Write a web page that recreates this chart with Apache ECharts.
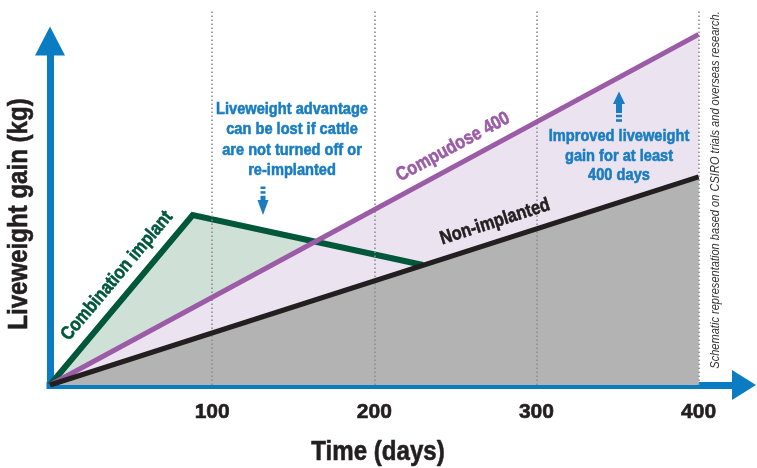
<!DOCTYPE html>
<html>
<head>
<meta charset="utf-8">
<script src="https://cdn.jsdelivr.net/npm/echarts@6/dist/echarts.min.js"></script>
<style>
html,body{margin:0;padding:0;background:#fff;}
#chart{width:757px;height:468px;}
</style>
</head>
<body>
<div id="chart"></div>
<script>
// ---- data (schematic values) ----
var xTicks = [100, 200, 300, 400];
var nonImplanted = [[0, 0], [400, 55.5]];
var compudose = [[0, 0], [400, 93.5]];
var combination = [[0, 0], [88, 45.3], [230, 32]];
var seriesNames = ['Combination implant', 'Compudose 400', 'Non-implanted'];
var xTitle = 'Time (days)';
var yTitle = 'Liveweight gain (kg)';
var noteLoss = 'Liveweight advantage\ncan be lost if cattle\nare not turned off or\nre-implanted';
var noteGain = 'Improved liveweight\ngain for at least\n400 days';
var sourceNote = 'Schematic representation based on CSIRO trials and overseas research.';

var FONT = '"Liberation Sans", Arial, sans-serif';
var NARROW = 0.86;
var BLUE = '#0a7cc2';
var TXTBLUE = '#1a7dc1';
var GREEN = '#00573a';
var PURPLE = '#9b5ba6';
var BLACK = '#231f20';

var chart = echarts.init(document.getElementById('chart'), null, {renderer: 'canvas'});

function txt(text, x, y, size, color, rot, extra, heavy) {
  var s = {
    text: text, x: 0, y: 0, fill: color, fontSize: size, fontWeight: 'bold',
    fontFamily: FONT, align: 'center', verticalAlign: 'middle'
  };
  if (heavy !== false) { s.stroke = color; s.lineWidth = 0.6; }
  if (extra) for (var k in extra) s[k] = extra[k];
  return {type: 'text', x: x, y: y, rotation: rot || 0, scaleX: NARROW, scaleY: 1, z: 100, style: s};
}

var option = {
  animation: false,
  backgroundColor: '#ffffff',
  grid: [
    {left: 50, right: 13, top: 10, bottom: 83},
    {left: 50, right: 13, top: 41, bottom: 83}
  ],
  xAxis: [
    {
      type: 'value', gridIndex: 0, min: 0, max: 428, interval: 100, offset: 4,
      axisLine: {show: true, symbol: ['none', 'triangle'], symbolSize: [30, 24],
        lineStyle: {color: BLUE, width: 7, cap: 'square'}},
      axisTick: {show: false},
      splitLine: {show: false},
      axisLabel: {
        margin: 13, fontSize: 21, fontWeight: 'bold', fontFamily: FONT, color: BLACK,
        textBorderColor: BLACK, textBorderWidth: 0.6,
        formatter: function (v) { return xTicks.indexOf(v) >= 0 ? String(v) : ''; }
      }
    },
    {type: 'value', gridIndex: 1, min: 0, max: 428, show: false}
  ],
  yAxis: [
    {type: 'value', gridIndex: 0, min: 0, max: 100, show: false},
    {
      type: 'value', gridIndex: 1, min: 0, max: 1, offset: 1.5,
      axisLine: {show: true, symbol: ['none', 'triangle'], symbolSize: [30, 29],
        lineStyle: {color: BLUE, width: 7, cap: 'square'}},
      axisTick: {show: false}, axisLabel: {show: false}, splitLine: {show: false}
    }
  ],
  series: [
    {type: 'line', name: seriesNames[0] + ' area', data: combination, symbol: 'none', z: 1,
      lineStyle: {width: 0, opacity: 0}, areaStyle: {color: '#cfe0d7', opacity: 1}},
    {type: 'line', name: seriesNames[1] + ' area', data: compudose, symbol: 'none', z: 2,
      lineStyle: {width: 0, opacity: 0}, areaStyle: {color: '#ebe3f0', opacity: 1}},
    {type: 'line', name: seriesNames[2] + ' area', data: nonImplanted, symbol: 'none', z: 3,
      lineStyle: {width: 0, opacity: 0}, areaStyle: {color: '#b3b3b3', opacity: 1}},
    {type: 'line', name: 'grid', data: [], symbol: 'none', z: 3.5,
      markLine: {
        silent: true, symbol: ['none', 'none'], label: {show: false},
        lineStyle: {color: '#8c8c8c', width: 1.6, type: [1.6, 2.4]},
        data: xTicks.map(function (t) { return {xAxis: t}; })
      }},
    {type: 'line', name: seriesNames[0], data: combination, symbol: 'none', z: 4,
      lineStyle: {color: GREEN, width: 6, join: 'miter'}},
    {type: 'line', name: seriesNames[1], data: compudose, symbol: 'none', z: 5,
      lineStyle: {color: PURPLE, width: 5}},
    {type: 'line', name: seriesNames[2], data: nonImplanted, symbol: 'none', z: 6,
      lineStyle: {color: BLACK, width: 5}}
  ],
  graphic: [
    txt(xTitle, 378, 452, 28, BLACK, 0),
    txt(yTitle, 19, 214, 28, BLACK, Math.PI / 2),
    txt(seriesNames[0], 117, 276, 19, GREEN, 50 * Math.PI / 180),
    txt(seriesNames[1], 453, 147, 19, PURPLE, 28.4 * Math.PI / 180),
    txt(seriesNames[2], 495, 222, 19, BLACK, 17.8 * Math.PI / 180),
    txt(noteLoss, 292, 140, 17, TXTBLUE, 0, {lineHeight: 20.5}),
    txt(noteGain, 619, 156, 17, TXTBLUE, 0, {lineHeight: 19.5}),
    {type: 'text', x: 715, y: 190, rotation: Math.PI / 2, scaleX: 0.82, z: 100,
      style: {text: sourceNote, x: 0, y: 0, fill: '#333333', fontSize: 13.5, fontStyle: 'italic',
        fontFamily: FONT, align: 'center', verticalAlign: 'middle'}},
    // down arrow
    {type: 'rect', z: 100, shape: {x: 260.5, y: 186.5, width: 5, height: 2.5}, style: {fill: TXTBLUE}},
    {type: 'rect', z: 100, shape: {x: 260.5, y: 191.2, width: 5, height: 2.5}, style: {fill: TXTBLUE}},
    {type: 'rect', z: 100, shape: {x: 260.5, y: 195.8, width: 5, height: 5}, style: {fill: TXTBLUE}},
    {type: 'polygon', z: 100, shape: {points: [[257.5, 200], [268.5, 200], [263, 215]]}, style: {fill: TXTBLUE}},
    // up arrow
    {type: 'polygon', z: 100, shape: {points: [[613, 104], [625, 104], [619, 91.5]]}, style: {fill: TXTBLUE}},
    {type: 'rect', z: 100, shape: {x: 616, y: 103.5, width: 6, height: 9.5}, style: {fill: TXTBLUE}},
    {type: 'rect', z: 100, shape: {x: 616, y: 114.7, width: 6, height: 2.6}, style: {fill: TXTBLUE}},
    {type: 'rect', z: 100, shape: {x: 616, y: 119.2, width: 6, height: 2.6}, style: {fill: TXTBLUE}}
  ]
};
chart.setOption(option);
</script>
</body>
</html>
